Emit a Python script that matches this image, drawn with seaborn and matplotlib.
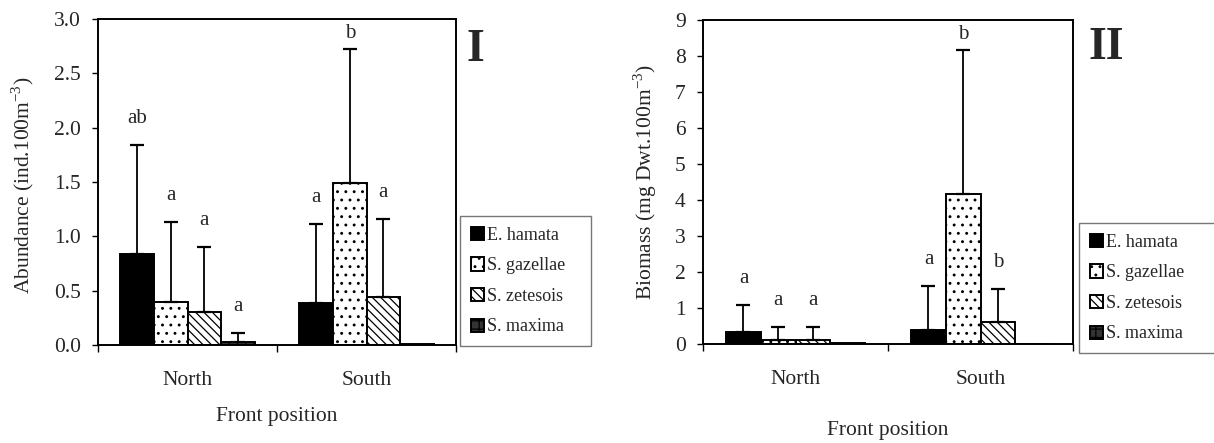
import numpy as np
import pandas as pd
import matplotlib
matplotlib.use("Agg")
import matplotlib.pyplot as plt
import seaborn as sns

# ---------------- data ----------------
positions = ["North", "South"]
species = ["E. hamata", "S. gazellae", "S. zetesois", "S. maxima"]

# Panel I : abundance (ind.100m-3), mean and +SD per species (North, South)
abund_mean = {
    "E. hamata":   [0.84, 0.39],
    "S. gazellae": [0.40, 1.495],
    "S. zetesois": [0.30, 0.44],
    "S. maxima":   [0.025, 0.005],
}
abund_sd = {
    "E. hamata":   [1.005, 0.725],
    "S. gazellae": [0.73, 1.225],
    "S. zetesois": [0.60, 0.72],
    "S. maxima":   [0.085, np.nan],
}
abund_letters = {
    "E. hamata":   ["ab", "a"],
    "S. gazellae": ["a", "b"],
    "S. zetesois": ["a", "a"],
    "S. maxima":   ["a", ""],
}

# Panel II : biomass (mg Dwt.100m-3)
bio_mean = {
    "E. hamata":   [0.32, 0.40],
    "S. gazellae": [0.12, 4.16],
    "S. zetesois": [0.12, 0.62],
    "S. maxima":   [0.02, 0.0],
}
bio_sd = {
    "E. hamata":   [0.75, 1.21],
    "S. gazellae": [0.36, 4.01],
    "S. zetesois": [0.35, 0.91],
    "S. maxima":   [np.nan, np.nan],
}
bio_letters = {
    "E. hamata":   ["a", "a"],
    "S. gazellae": ["a", "b"],
    "S. zetesois": ["a", "b"],
    "S. maxima":   ["", ""],
}

abund_ticks = [0.0, 0.5, 1.0, 1.5, 2.0, 2.5, 3.0]
bio_ticks = list(range(0, 10))

# ---------------- style ----------------
sns.set_theme(style="white")
plt.rcParams["font.family"] = ["Liberation Serif", "DejaVu Serif"]
plt.rcParams["mathtext.fontset"] = "custom"
plt.rcParams["mathtext.rm"] = "Liberation Serif"
plt.rcParams["hatch.linewidth"] = 0.9

face = {"E. hamata": "black", "S. gazellae": "white",
        "S. zetesois": "white", "S. maxima": "#333333"}
hatch = {"E. hamata": "", "S. gazellae": "..",
         "S. zetesois": "\\\\\\\\", "S. maxima": "++"}

FS = 15.5

fig = plt.figure(figsize=(12.14, 4.43), dpi=100)


def long_df(means):
    rows = []
    for sp in species:
        for pos, v in zip(positions, means[sp]):
            rows.append({"pos": pos, "species": sp, "val": v})
    return pd.DataFrame(rows)


def draw(rect, means, sds, letters, ticks, fmt, ylabel, ylab_xy, xlab_y,
         leg_rect, roman, roman_xy):
    ax = fig.add_axes(rect)
    df = long_df(means)
    sns.barplot(data=df, x="pos", y="val", hue="species", hue_order=species,
                order=positions, palette=face, width=0.75, errorbar=None,
                edgecolor="black", linewidth=1.4, saturation=1, ax=ax,
                legend=False)
    ymax = ticks[-1]
    ax.set_ylim(0, ymax)
    ax.set_xlim(-0.5, 1.5)
    # pixels per data unit
    p0 = ax.transData.transform((0, 0))[1]
    p1 = ax.transData.transform((0, ymax))[1]
    ppu = (p1 - p0) / ymax
    off = 17 / ppu

    handles = []
    for cont, sp in zip(ax.containers, species):
        xs, hs = [], []
        for bar in cont:
            bar.set_hatch(hatch[sp])
            bar.set_facecolor(face[sp])
            bar.set_edgecolor("black")
            xs.append(bar.get_x() + bar.get_width() / 2)
            hs.append(bar.get_height())
        handles.append(cont.patches[0])
        xs = np.array(xs)
        hs = np.array(hs)
        sd = np.array(sds[sp], dtype=float)
        ok = ~np.isnan(sd)
        if ok.any():
            ax.errorbar(xs[ok], hs[ok], yerr=[np.zeros(ok.sum()), sd[ok]],
                        fmt="none", ecolor="black", elinewidth=1.3,
                        capsize=4.7, capthick=1.6, zorder=1)
        for x, h, s, lab in zip(xs, hs, sd, letters[sp]):
            if not lab:
                continue
            top = h + (0 if np.isnan(s) else s)
            y = min(top + off, 0.925 * ymax)
            ax.text(x, y, lab, ha="center", va="bottom", fontsize=15)

    ax.set_yticks(ticks)
    ax.set_yticklabels([fmt.format(t) for t in ticks], fontsize=FS)
    ax.set_xticks([0, 1])
    ax.set_xticklabels(positions, fontsize=FS)
    ax.set_xticks([-0.5, 0.5, 1.5], minor=True)
    ax.tick_params(axis="x", which="major", length=0, pad=19)
    ax.tick_params(axis="x", which="minor", length=5, width=1.0,
                   direction="out", bottom=True, color="black")
    ax.tick_params(axis="y", which="major", length=4, width=1.0,
                   direction="out", left=True, pad=8.5, color="black")
    for s in ax.spines.values():
        s.set_visible(True)
        s.set_color("black")
        s.set_linewidth(1.4)
    ax.set_ylabel(ylabel, fontsize=FS)
    ax.yaxis.set_label_coords(*ylab_xy)
    ax.set_xlabel("Front position", fontsize=FS)
    ax.xaxis.set_label_coords(0.5, xlab_y)

    leg = fig.legend(handles, species, loc="upper left",
                     bbox_to_anchor=leg_rect, bbox_transform=fig.transFigure,
                     mode="expand", fontsize=13, frameon=True, fancybox=False,
                     edgecolor="#555555", handlelength=0.75, handleheight=0.75,
                     handletextpad=0.15, labelspacing=0.75, borderpad=0.6,
                     borderaxespad=0)
    leg.get_frame().set_linewidth(1.0)
    fig.text(roman_xy[0], roman_xy[1], roman, fontsize=33, fontweight="bold",
             ha="center", va="center")
    return ax


draw([98 / 1214, 1 - 345 / 443, 358 / 1214, 326 / 443],
     abund_mean, abund_sd, abund_letters, abund_ticks, "{:.1f}",
     r"Abundance (ind.100m$^{-3}$)", (-0.172, 0.49), -0.19,
     (460 / 1214, 1 - 339 / 443, 131 / 1214, 123 / 443), "I",
     (475 / 1214, 1 - 50 / 443))

draw([703 / 1214, 1 - 344 / 443, 370 / 1214, 324 / 443],
     bio_mean, bio_sd, bio_letters, bio_ticks, "{:d}",
     r"Biomass (mg Dwt.100m$^{-3}$)", (-0.118, 0.5), -0.238,
     (1079 / 1214, 1 - 346 / 443, 140 / 1214, 123 / 443), "II",
     (1106 / 1214, 1 - 48 / 443))

fig.savefig("out.png", dpi=100)
